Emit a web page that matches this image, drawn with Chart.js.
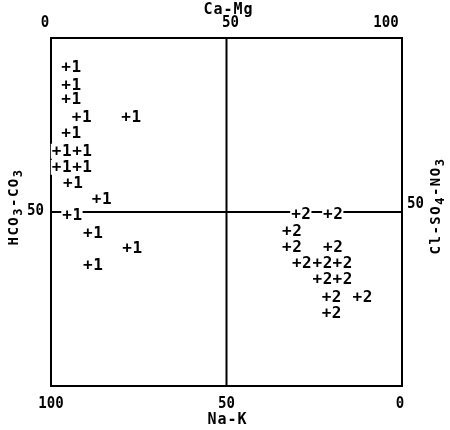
<!DOCTYPE html>
<html><head><meta charset="utf-8">
<script src="https://cdn.jsdelivr.net/npm/chart.js@4/dist/chart.umd.min.js"></script>
<style>html,body{margin:0;padding:0;background:#fff}#wrap{width:450px;height:430px}</style>
</head><body><div id="wrap"><canvas id="c" width="450" height="430"></canvas></div>
<script>
// Group labels
const groupLabels = ['1', '2'];
// Group 1: Ca-Mg (%) and HCO3-CO3 (%)
const caMg1 = [4.3, 4.3, 4.3, 7.3, 21.4, 4.3, 1.6, 7.4, 1.6, 7.4, 4.8, 13.0, 4.6, 10.5, 21.7, 10.5];
const hco3_1 = [91.7, 86.5, 82.5, 77.3, 77.3, 72.7, 67.6, 67.6, 63.0, 63.0, 58.4, 53.7, 49.1, 44.1, 39.7, 34.8];
// Group 2
const caMg2 = [69.8, 78.9, 67.2, 67.2, 78.9, 70.0, 75.9, 81.6, 75.9, 81.6, 78.5, 87.3, 78.5];
const hco3_2 = [49.4, 49.4, 44.6, 39.9, 39.9, 35.3, 35.3, 35.3, 30.7, 30.7, 25.7, 25.7, 20.9];
// Tick labels
const topTicks = [0, 50, 100];      // Ca-Mg
const bottomTicks = [100, 50, 0];   // Na-K
const sideTicks = [50];             // HCO3-CO3 / Cl-SO4-NO3

const FONT = '"DejaVu Sans Mono", "Liberation Mono", monospace';

function pts(xs, ys){ return xs.map((x,i)=>({x:x, y:ys[i]})); }

function textScaled(ctx, txt, x, y, align, sx){
  ctx.save();
  ctx.translate(x, y);
  ctx.scale(sx, 1);
  ctx.textAlign = align;
  ctx.fillText(txt, 0, 0);
  ctx.restore();
}

function drawRotated(ctx, parts, cx, cy, size){
  // parts: [[text, isSub], ...]; rotated -90deg, centered at cx, cy
  ctx.save();
  ctx.translate(cx, cy);
  ctx.rotate(-Math.PI/2);
  ctx.letterSpacing = '1.5px';
  let total = 0;
  const widths = parts.map(p => { ctx.font = 'bold ' + (p[1] ? size-2 : size) + 'px ' + FONT; const w = ctx.measureText(p[0]).width; total += w; return w; });
  let x = -total/2;
  ctx.textBaseline = 'alphabetic';
  ctx.textAlign = 'left';
  parts.forEach((p,i) => {
    ctx.font = 'bold ' + (p[1] ? size-2 : size) + 'px ' + FONT;
    ctx.fillText(p[0], x, p[1] ? 8 : 4);
    x += widths[i];
  });
  ctx.restore();
}

const durov = {
  id: 'durov',
  beforeDatasetsDraw(chart){
    const ctx = chart.ctx, a = chart.chartArea, xs = chart.scales.x, ys = chart.scales.y;
    ctx.save();
    ctx.strokeStyle = '#000';
    ctx.lineWidth = 2;
    ctx.strokeRect(a.left, a.top, a.right - a.left, a.bottom - a.top);
    const mx = xs.getPixelForValue(50), my = ys.getPixelForValue(50);
    ctx.beginPath();
    ctx.moveTo(mx, a.top); ctx.lineTo(mx, a.bottom);
    ctx.moveTo(a.left, my); ctx.lineTo(a.right, my);
    ctx.stroke();
    ctx.restore();
  },
  afterDatasetsDraw(chart){
    const ctx = chart.ctx;
    ctx.save();
    ctx.font = 'bold 16px ' + FONT;
    ctx.letterSpacing = '0px';
    const plusW = ctx.measureText('+').width;
    ctx.letterSpacing = '0.5px';
    const items = [];
    chart.data.datasets.forEach((ds, di) => {
      const meta = chart.getDatasetMeta(di);
      meta.data.forEach(el => {
        const txt = '+' + ds.label;
        items.push({x: el.x - plusW/2, y: el.y, t: txt, w: ctx.measureText(txt).width});
      });
    });
    ctx.fillStyle = '#fff';
    items.forEach(it => ctx.fillRect(it.x - 1, it.y - 7, it.w + 1, 15));
    ctx.fillStyle = '#000';
    ctx.textAlign = 'left';
    ctx.textBaseline = 'middle';
    items.forEach(it => ctx.fillText(it.t, it.x, it.y + 1));
    ctx.restore();
  },
  afterDraw(chart){
    const ctx = chart.ctx, a = chart.chartArea, xs = chart.scales.x, ys = chart.scales.y;
    ctx.save();
    ctx.fillStyle = '#000';
    ctx.textBaseline = 'middle';
    ctx.font = 'bold 16px ' + FONT;
    ctx.letterSpacing = '0px';
    const SX = 0.88;
    // top ticks (Ca-Mg)
    const topOff = {0: -6, 50: 4, 100: -16};
    topTicks.forEach(v => {
      textScaled(ctx, String(v), xs.getPixelForValue(v) + topOff[v], a.top - 15, 'center', SX);
    });
    // bottom ticks (Na-K)
    bottomTicks.forEach(v => {
      textScaled(ctx, String(v), xs.getPixelForValue(100 - v) + (v === 0 ? -2 : 0), a.bottom + 18, 'center', SX);
    });
    // side ticks
    sideTicks.forEach(v => {
      textScaled(ctx, String(v), a.left - 7, ys.getPixelForValue(v) - 1, 'right', SX);
      textScaled(ctx, String(v), a.right + 5, ys.getPixelForValue(v) - 8, 'left', SX);
    });
    // titles
    ctx.font = 'bold 15px ' + FONT;
    ctx.letterSpacing = '1px';
    ctx.textAlign = 'center';
    ctx.fillText('Ca-Mg', xs.getPixelForValue(50) + 2, 10);
    ctx.fillText('Na-K', xs.getPixelForValue(50) + 1, a.bottom + 34);
    ctx.letterSpacing = '0px';
    drawRotated(ctx, [['HCO',0],['3',1],['-CO',0],['3',1]], 14, 207, 14);
    drawRotated(ctx, [['Cl-SO',0],['4',1],['-NO',0],['3',1]], 436, 206, 14);
    ctx.restore();
  }
};

new Chart(document.getElementById('c'), {
  type: 'scatter',
  data: {
    datasets: [
      {label: groupLabels[0], data: pts(caMg1, hco3_1), pointRadius: 0},
      {label: groupLabels[1], data: pts(caMg2, hco3_2), pointRadius: 0}
    ]
  },
  options: {
    responsive: false,
    animation: false,
    devicePixelRatio: 1,
    layout: {padding: {left: 51, right: 48, top: 38, bottom: 44}},
    plugins: {legend: {display: false}, tooltip: {enabled: false}},
    scales: {
      x: {type: 'linear', min: 0, max: 100, display: false},
      y: {type: 'linear', min: 0, max: 100, display: false}
    }
  },
  plugins: [durov]
});
</script>
</body></html>
